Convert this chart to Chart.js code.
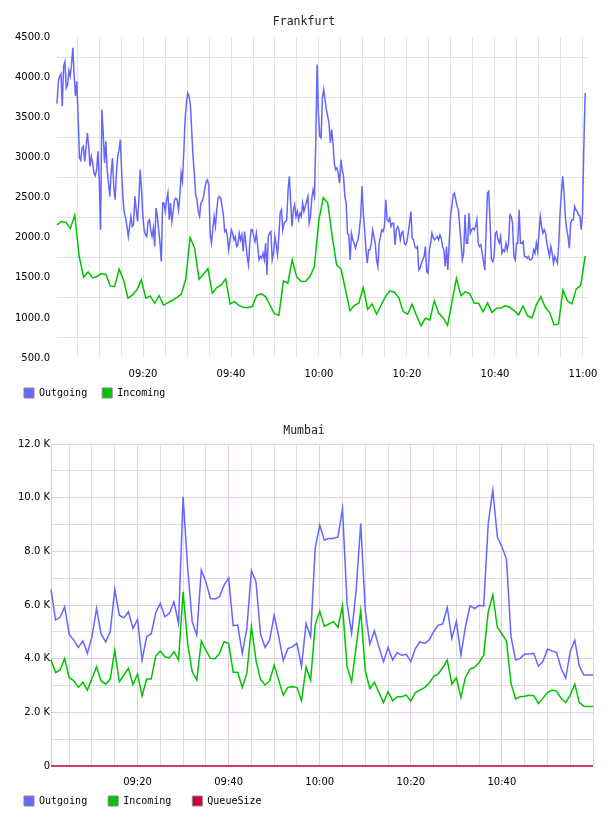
<!DOCTYPE html>
<html>
<head>
<meta charset="utf-8">
<script src="https://cdn.jsdelivr.net/npm/chart.js@4.4.0/dist/chart.umd.min.js"></script>
<style>
    html, body { margin: 0; padding: 0; background: #fff; width: 608px; height: 816px; overflow: hidden; }
    canvas { position: absolute; left: 0; }
    #fraChart { top: 0; }
    #mumChart { top: 410px; }
</style>
</head>
<body>
<canvas id="fraChart" width="608" height="415"></canvas>
<canvas id="mumChart" width="608" height="419"></canvas>
<script>
// Frankfurt - minutes after 09:00, first and last sample
const fraStart = 0.45;
const fraEnd = 120.5;

const fraOutgoing = [
    3675,3954,4017,4046,3642,4142,4196,3871,3913,4087,
    4017,4163,4371,4017,3767,3954,3517,2996,2967,3121,
    3142,2954,3121,3308,3142,2892,3017,2933,2808,2775,
    2850,3079,2725,2100,3600,3308,2933,3204,2850,2683,
    2517,2808,2996,2642,2475,2808,3017,3100,3225,2808,
    2475,2308,2246,2142,2017,2142,2267,2142,2162,2517,
    2350,2204,2475,2850,2600,2267,2100,2037,2017,2204,
    2225,2100,2017,2121,1892,2371,2267,2100,1933,1704,
    2433,2433,2329,2475,2558,2225,2433,2204,2329,2475,
    2496,2475,2350,2517,2808,2704,3058,3475,3683,3808,
    3767,3662,3350,3017,2808,2537,2475,2329,2267,2433,
    2454,2517,2621,2704,2725,2642,2058,1933,2100,2267,
    2142,2350,2496,2517,2496,2392,2287,2079,2100,2017,
    1850,1975,2100,2058,1975,2017,1892,1912,2058,1975,
    2037,1829,2079,1933,1767,1662,1933,2100,2100,2017,
    1954,2058,1892,1725,1767,1746,1808,1725,1933,1537,
    2017,2058,2079,1725,1808,2017,1912,1787,2017,2308,
    2350,2100,2183,2204,2225,2600,2767,2433,2142,2350,
    2412,2267,2329,2225,2308,2267,2433,2329,2392,2454,
    2517,2183,2267,2496,2600,2517,3225,4163,3558,3267,
    3246,3746,3850,
    3725,3600,3517,3433,3183,3350,3183,2933,2850,2871,
    2808,2683,2975,2850,2767,2517,2433,2058,2037,1725,
    2058,1975,1933,1871,1933,1975,2100,2267,2642,2308,
    2100,1850,1683,1850,1850,1933,2100,2017,1933,1725,
    1642,1933,2017,2100,2079,2142,2475,2225,2204,2246,
    2142,2183,2183,1912,2100,2142,2100,1975,2058,2079,
    1933,1912,1954,2058,2183,2329,1996,1975,1892,1871,
    1892,1600,1621,1683,1725,1767,1892,1579,1558,1850,
    1933,2058,1996,1975,1996,2017,1975,2037,1996,1892,
    1850,1642,1892,1600,1933,2267,2392,2537,2558,2475,
    2392,2350,2142,1933,1725,1808,2287,1933,1933,2308,
    2058,2100,2121,2100,2142,2225,1933,1892,1912,1808,
    1704,1600,2100,2558,2579,2183,1725,1704,1767,2058,
    2079,1975,1933,2017,1808,1850,1829,1933,1850,1933,
    2287,2267,2183,1767,1725,1933,1933,2350,1933,1933,
    1954,1767,1767,1746,1767,1725,1725,1746,1850,1808,
    1933,1829,2058,2267,2142,2058,2100,2058,1933,1850,
    1767,1892,1808,1683,1767,1725,1683,1933,2308,2558,
    2767,2558,2267,2100,2017,1871,2183,2225,2225,2392,
    2350,2329,2287,2267,2100,2308,3142,3808
];

const fraIncoming = [
    2162,2204,2196,2117,2283,1767,1508,1575,1500,1517,
    1554,1542,1400,1392,1608,1475,1246,1288,1350,1475,
    1246,1275,1183,1279,1158,1192,1221,1254,1296,1483,
    2004,1871,1483,1546,1617,1308,1379,1413,1488,1175,
    1204,1158,1129,1129,1142,1279,1304,1267,1158,1054,
    1033,1463,1433,1725,1513,1454,1458,1517,1642,2225,
    2500,2433,
    2017,1662,1608,1350,1092,1158,1183,1379,1108,1175,
    1046,1158,1267,1338,1321,1254,1079,1046,1171,1029,
    900,996,975,1213,1058,1000,908,1204,1496,1279,
    1325,1304,1183,1183,1079,1188,1067,1121,1125,1150,
    1133,1092,1038,1150,1029,1000,1163,1267,1133,1067,
    913,925,1350,1213,1175,1363,1408,1775
];

// Mumbai - one sample a minute, 09:01 .. 11:00
const mumStart = 1;
const mumEnd = 120;

const mumOutgoing = [
    6580,5440,5540,5930,4900,4690,4420,4660,4200,4820,
    5870,4920,4630,5000,6580,5620,5520,5750,5130,5460,
    3950,4820,4920,5710,6060,5560,5690,6120,5310,10030,
    7400,5380,4880,7300,6870,6240,6220,6310,6740,7010,
    5230,5250,4200,5130,7280,6870,4920,4420,4690,5620,
    4820,3920,4380,4440,4570,3700,5310,4820,8110,8980,
    8420,8480,8480,8540,9600,6060,4940,6550,9040,5810,
    4540,5040,4440,3890,4420,3950,4220,4130,4160,3890,
    4380,4630,4570,4690,5000,5250,5290,5910,4750,5380,
    4130,5190,5970,5870,5990,5960,9040,10280,8540,8170,
    7710,4820,3950,4010,4170,4170,4200,3720,3890,4360,
    4290,4230,3640,3270,4260,4690,3720,3390,3390,3390
];

const mumIncoming = [
    3950,3480,3580,4010,3290,3180,2930,3120,2830,3270,
    3700,3170,3050,3240,4320,3140,3390,3640,3040,3430,
    2610,3240,3240,4100,4280,4070,4030,4260,3950,6490,
    4570,3510,3200,4660,4320,4010,4000,4200,4630,4570,
    3490,3490,2930,3450,5190,3950,3230,3020,3170,3760,
    3200,2640,2930,2950,2930,2430,3680,3200,5250,5770,
    5210,5290,5380,5170,5960,3700,3140,4440,5790,3550,
    2890,3120,2740,2360,2770,2430,2580,2580,2640,2420,
    2740,2830,2920,3080,3330,3430,3660,3950,3050,3290,
    2560,3300,3610,3680,3860,4130,5750,6370,5170,4920,
    4660,3080,2500,2580,2600,2640,2620,2330,2520,2740,
    2830,2790,2520,2360,2640,3050,2360,2230,2220,2220
];

const mumQueueSize = [
    0,0,0,0,0,0,0,0,0,0, 0,0,0,0,0,0,0,0,0,0,
    0,0,0,0,0,0,0,0,0,0, 0,0,0,0,0,0,0,0,0,0,
    0,0,0,0,0,0,0,0,0,0, 0,0,0,0,0,0,0,0,0,0,
    0,0,0,0,0,0,0,0,0,0, 0,0,0,0,0,0,0,0,0,0,
    0,0,0,0,0,0,0,0,0,0, 0,0,0,0,0,0,0,0,0,0,
    0,0,0,0,0,0,0,0,0,0, 0,0,0,0,0,0,0,0,0,0
];

// grid every 5 minutes, label every 20
const gridMinutes = [];
for (let m = 5; m <= 120; m += 5) gridMinutes.push(m);

const BLUE = 'rgb(102,102,255)';
const GREEN = 'rgb(0,196,0)';
const RED = 'rgb(204,0,51)';
const PINK = '#e6cce6';
const GREY = '#dedede';

Chart.defaults.font.family = 'DejaVu Sans';
Chart.defaults.font.size = 10;
Chart.defaults.color = '#000';

function hhmm(m) {
    const h = 9 + Math.floor(m / 60);
    const mm = Math.round(m % 60);
    return String(h).padStart(2, '0') + ':' + String(mm).padStart(2, '0');
}

// spread samples evenly between the first and last timestamp
function toPoints(values, start, end) {
    const step = (end - start) / (values.length - 1);
    return values.map((v, i) => ({ x: start + i * step, y: v }));
}

function lineSet(label, values, start, end, color) {
    return {
        label: label,
        data: toPoints(values, start, end),
        borderColor: color,
        backgroundColor: color,
        borderWidth: 1.5,
        pointRadius: 0,
        tension: 0,
        fill: false,
        clip: 3   // let the zero line show in full on the bottom edge
    };
}

function legendOpts(padding) {
    return {
        position: 'bottom',
        align: 'start',
        labels: {
            font: { family: 'DejaVu Sans Mono', size: 10 },
            color: '#000',
            boxWidth: 10,
            boxHeight: 10,
            padding: padding,
            generateLabels(chart) {
                return Chart.defaults.plugins.legend.labels.generateLabels(chart).map(item => {
                    item.strokeStyle = '#888';
                    item.lineWidth = 1;
                    return item;
                });
            }
        }
    };
}

// centre the title over the whole canvas and put the legend row where the original has it
const tidyLayout = {
    id: 'tidyLayout',
    afterLayout(chart, args, opts) {
        if (chart.titleBlock) {
            chart.titleBlock.left = 0;
            chart.titleBlock.right = chart.width;
        }
        const lg = chart.legend;
        if (lg) {
            const p = lg.options.labels.padding;
            lg.left = opts.legendX - p;
            lg.top = opts.legendY - p;
        }
    }
};

// Frankfurt
new Chart(document.getElementById('fraChart').getContext('2d'), {
    type: 'line',
    data: {
        datasets: [
            lineSet('Outgoing', fraOutgoing, fraStart, fraEnd, BLUE),
            lineSet('Incoming', fraIncoming, fraStart, fraEnd, GREEN)
        ]
    },
    plugins: [tidyLayout],
    options: {
        responsive: false,
        animation: false,
        events: [],
        layout: { padding: { left: 0, right: 14, top: 0, bottom: 0 } },
        plugins: {
            tidyLayout: { legendX: 24, legendY: 388 },
            title: {
                display: true,
                text: 'Frankfurt',
                color: '#222',
                font: { family: 'DejaVu Sans Mono', size: 11.5, weight: 'normal' },
                padding: { top: 15.6, bottom: 8.1 }
            },
            legend: legendOpts(15),
            tooltip: { enabled: false }
        },
        scales: {
            x: {
                type: 'linear',
                min: fraStart,
                max: 121.05,
                afterBuildTicks: s => { s.ticks = gridMinutes.map(v => ({ value: v })); },
                afterFit: s => { s.height = 22; },
                grid: { color: '#e4e4e4', drawTicks: false },
                border: { display: false },
                ticks: {
                    autoSkip: false,
                    maxRotation: 0,
                    padding: 10.5,
                    callback: v => (v % 20 === 0 ? hhmm(v) : '')
                }
            },
            y: {
                min: 500,
                max: 4500,
                afterFit: s => { s.width = 57; },
                grid: {
                    drawTicks: false,
                    color: c => (c.tick && c.tick.value % 500 === 250 ? '#e2e2e2' : 'rgba(0,0,0,0)')
                },
                border: { display: false },
                ticks: {
                    stepSize: 250,
                    autoSkip: false,
                    padding: 7,
                    callback: v => (v % 500 === 0 ? v.toFixed(1) : '')
                }
            }
        }
    }
});

// Mumbai
new Chart(document.getElementById('mumChart').getContext('2d'), {
    type: 'line',
    data: {
        datasets: [
            lineSet('Outgoing', mumOutgoing, mumStart, mumEnd, BLUE),
            lineSet('Incoming', mumIncoming, mumStart, mumEnd, GREEN),
            lineSet('QueueSize', mumQueueSize, mumStart, mumEnd, RED)
        ]
    },
    plugins: [tidyLayout],
    options: {
        responsive: false,
        animation: false,
        events: [],
        layout: { padding: { left: 0, right: 15, top: 0, bottom: 0 } },
        plugins: {
            tidyLayout: { legendX: 24, legendY: 386 },
            title: {
                display: true,
                text: 'Mumbai',
                color: '#222',
                font: { family: 'DejaVu Sans Mono', size: 11.5, weight: 'normal' },
                padding: { top: 14.3, bottom: 5.9 }
            },
            legend: legendOpts(21),
            tooltip: { enabled: false }
        },
        scales: {
            x: {
                type: 'linear',
                min: mumStart,
                max: mumEnd,
                afterBuildTicks: s => { s.ticks = gridMinutes.map(v => ({ value: v })); },
                afterFit: s => { s.height = 22; },
                grid: {
                    drawTicks: false,
                    color: c => (c.tick && c.tick.value % 20 === 0 ? PINK : GREY)
                },
                border: { display: false },
                ticks: {
                    autoSkip: false,
                    maxRotation: 0,
                    padding: 10,
                    callback: v => (v % 20 === 0 && v < mumEnd ? hhmm(v) : '')
                }
            },
            y: {
                min: 0,
                max: 12000,
                afterFit: s => { s.width = 51; },
                grid: {
                    drawTicks: false,
                    color: c => (c.tick && c.tick.value % 2000 === 0 ? PINK : GREY)
                },
                border: { display: true, color: PINK },
                ticks: {
                    stepSize: 1000,
                    autoSkip: false,
                    padding: 1,
                    callback: v => (v % 2000 !== 0 ? '' : (v === 0 ? '0' : (v / 1000).toFixed(1) + ' K'))
                }
            }
        }
    }
});
</script>
</body>
</html>
